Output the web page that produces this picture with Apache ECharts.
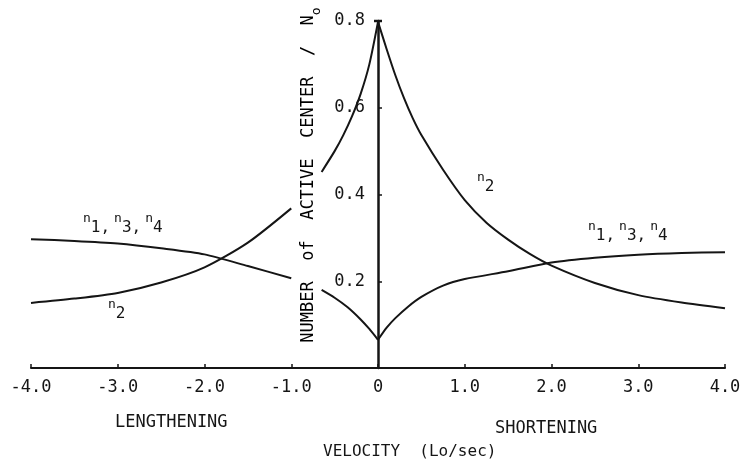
<!DOCTYPE html>
<html>
<head>
<meta charset="utf-8">
<script src="https://cdn.jsdelivr.net/npm/echarts@6/dist/echarts.min.js"></script>
<style>
  html, body { margin: 0; background: #fff; }
  #chart { width: 740px; height: 465px; }
</style>
</head>
<body>
<div id="chart"></div>
<script>
// 速度轴 (Lo/sec) 与纵轴刻度
const xTicks = [-4, -3, -2, -1, 0, 1, 2, 3, 4];
const yTicks = [0, 0.2, 0.4, 0.6, 0.8];

// n2 曲线 — 左支 (lengthening)，'-' 处为纵轴标题遮挡造成的断口
const n2Left = [
  [-4.0, 0.150], [-3.5, 0.160], [-3.0, 0.173], [-2.5, 0.197], [-2.0, 0.232],
  [-1.5, 0.289], [-1.0, 0.368], [-0.8, '-'], [-0.65, 0.452], [-0.5, 0.500],
  [-0.4, 0.537], [-0.3, 0.580], [-0.2, 0.632], [-0.1, 0.700], [0, 0.798]
];
// n2 曲线 — 右支 (shortening)
const n2Right = [
  [0, 0.798], [0.1, 0.735], [0.2, 0.675], [0.3, 0.622], [0.4, 0.576],
  [0.5, 0.537], [0.75, 0.457], [1.0, 0.387], [1.25, 0.335], [1.5, 0.296],
  [1.75, 0.263], [2.0, 0.236], [2.5, 0.196], [3.0, 0.168], [3.5, 0.151], [4.0, 0.138]
];
// n1, n3, n4 曲线 — 左支
const n1Left = [
  [-4.0, 0.297], [-3.5, 0.293], [-3.0, 0.287], [-2.5, 0.276], [-2.0, 0.262],
  [-1.5, 0.235], [-1.0, 0.207], [-0.8, '-'], [-0.65, 0.180], [-0.5, 0.162],
  [-0.35, 0.140], [-0.2, 0.112], [-0.1, 0.090], [0, 0.065]
];
// n1, n3, n4 曲线 — 右支
const n1Right = [
  [0, 0.065], [0.1, 0.093], [0.2, 0.115], [0.35, 0.142], [0.5, 0.164],
  [0.75, 0.190], [1.0, 0.205], [1.5, 0.223], [2.0, 0.243], [2.5, 0.254],
  [3.0, 0.261], [3.5, 0.265], [4.0, 0.267]
];

const MONO = '"DejaVu Sans Mono", "Liberation Mono", monospace';
const INK = '#151515';

const chart = echarts.init(document.getElementById('chart'));

function curve(data) {
  return {
    type: 'line',
    data: data,
    smooth: 0.25,
    showSymbol: false,
    connectNulls: false,
    lineStyle: { color: INK, width: 2 },
    silent: true
  };
}

// 下标标注用的 rich 样式
const subRich = {
  n: { fontSize: 13, fontFamily: MONO, color: INK, padding: [0, 0, 11, 4], verticalAlign: 'top' },
  d: { fontSize: 16, fontFamily: MONO, color: INK, verticalAlign: 'bottom' }
};

function tag(id, x, y, text) {
  return {
    type: 'text', id: id, x: x, y: y,
    style: { text: text, rich: subRich, fill: INK }
  };
}

chart.setOption({
  animation: false,
  backgroundColor: '#fff',
  grid: { left: 31, right: 15, top: 21, bottom: 97, outerBoundsMode: 'none' },
  xAxis: {
    type: 'value',
    min: xTicks[0],
    max: xTicks[xTicks.length - 1],
    interval: 1,
    axisLine: { onZero: false, lineStyle: { color: INK, width: 2 } },
    axisTick: { inside: true, length: 4, lineStyle: { color: INK, width: 1.5 } },
    axisLabel: {
      margin: 11,
      fontFamily: MONO, fontSize: 17, color: INK,
      formatter: v => v === 0 ? '0' : v.toFixed(1)
    },
    splitLine: { show: false }
  },
  yAxis: {
    type: 'value',
    min: yTicks[0],
    max: yTicks[yTicks.length - 1],
    interval: 0.2,
    offset: -347,
    axisLine: { onZero: false, lineStyle: { color: INK, width: 2.5 } },
    axisTick: { inside: true, length: 4, lineStyle: { color: INK, width: 1.5 } },
    axisLabel: {
      margin: 13,
      fontFamily: MONO, fontSize: 17, color: INK,
      formatter: v => v === 0 ? '' : v.toFixed(1)
    },
    splitLine: { show: false }
  },
  series: [curve(n2Left), curve(n2Right), curve(n1Left), curve(n1Right)],
  graphic: [
    tag('lblN1L', 79, 212, '{n|n}{d|1,}{n|n}{d|3,}{n|n}{d|4}'),
    tag('lblN1R', 584, 220, '{n|n}{d|1,}{n|n}{d|3,}{n|n}{d|4}'),
    tag('lblN2L', 104, 298, '{n|n}{d|2}'),
    tag('lblN2R', 473, 171, '{n|n}{d|2}'),
    {
      type: 'text', id: 'lengthening', x: 115, y: 423,
      style: { text: 'LENGTHENING', font: '17px ' + MONO, fill: INK, verticalAlign: 'middle' }
    },
    {
      type: 'text', id: 'shortening', x: 495, y: 429,
      style: { text: 'SHORTENING', font: '17px ' + MONO, fill: INK, verticalAlign: 'middle' }
    },
    {
      type: 'text', id: 'xTitle', x: 323, y: 452,
      style: { text: 'VELOCITY  (Lo/sec)', font: '16px ' + MONO, fill: INK, verticalAlign: 'middle' }
    },
    {
      type: 'text', id: 'yTitle', x: 312, y: 175, rotation: Math.PI / 2,
      style: {
        text: '{t|NUMBER  of  ACTIVE  CENTER  /  N}{o|o}',
        align: 'center', verticalAlign: 'middle',
        rich: {
          t: { fontSize: 17, fontFamily: MONO, color: INK, lineHeight: 17, verticalAlign: 'top' },
          o: { fontSize: 13, fontFamily: MONO, color: INK, padding: [10, 0, 0, 0], verticalAlign: 'bottom' }
        }
      }
    },
    { type: 'line', id: 'cap', shape: { x1: 0, y1: 0, x2: 0, y2: 0 }, style: { stroke: INK, lineWidth: 2.5 } }
  ]
});

// 纵轴顶端 0.8 处的短横帽
const capPt = chart.convertToPixel({ gridIndex: 0 }, [0, yTicks[yTicks.length - 1]]);
chart.setOption({
  graphic: [{
    id: 'cap',
    shape: { x1: capPt[0] - 4, y1: capPt[1], x2: capPt[0] + 4, y2: capPt[1] }
  }]
});
</script>
</body>
</html>
